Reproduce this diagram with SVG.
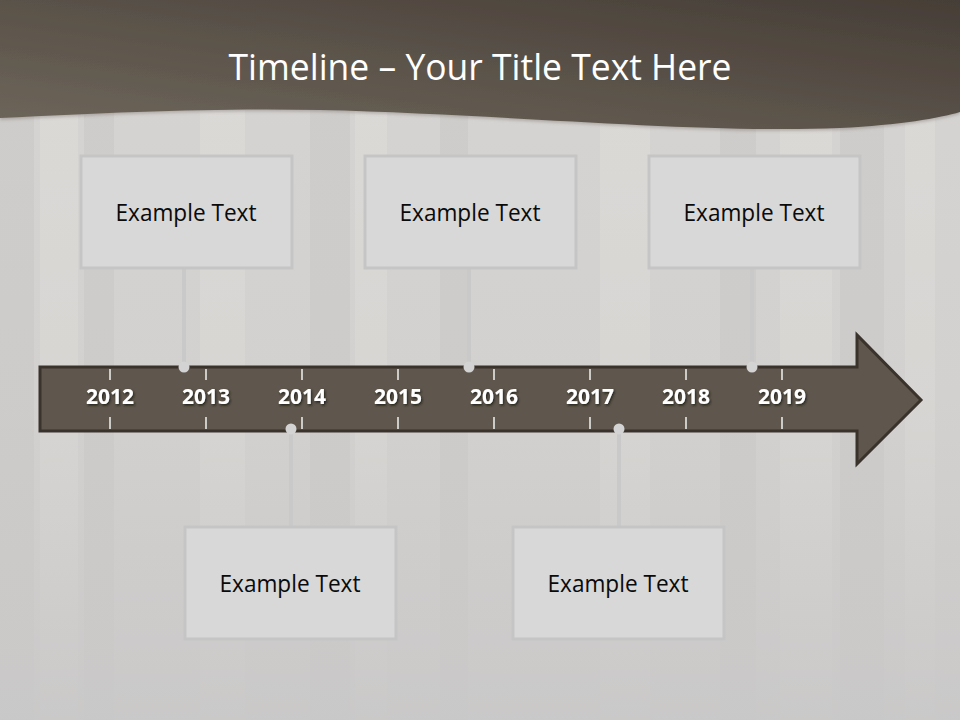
<svg xmlns="http://www.w3.org/2000/svg" width="960" height="720" viewBox="0 0 960 720">
  <defs>
    <linearGradient id="hdr" x1="0" y1="1" x2="1" y2="0">
      <stop offset="0" stop-color="#6e665b"/>
      <stop offset="1" stop-color="#463e37"/>
    </linearGradient>
    <linearGradient id="fade" x1="0" y1="0" x2="0" y2="1">
      <stop offset="0" stop-color="#cac8c7" stop-opacity="0"/>
      <stop offset="0.55" stop-color="#cac8c7" stop-opacity="0.25"/>
      <stop offset="1" stop-color="#c9c8c8" stop-opacity="0.95"/>
    </linearGradient>
    <filter id="tshadow" x="-20%" y="-20%" width="140%" height="160%">
      <feDropShadow dx="1.2" dy="1.5" stdDeviation="0.8" flood-color="#1e1a16" flood-opacity="0.9"/>
    </filter>
    <filter id="hshadow" x="-5%" y="-20%" width="110%" height="150%">
      <feDropShadow dx="0" dy="2" stdDeviation="1.5" flood-color="#6a6460" flood-opacity="0.35"/>
    </filter>
  </defs>
  <style>
    .box { fill: #d8d8d8; stroke: #c5c5c5; stroke-width: 3; }
    .lbl { font-family: "Open Sans", "Liberation Sans", sans-serif; font-size: 24px; fill: #0a0a0a; text-anchor: middle; }
    .yr { font-family: "Open Sans", "Liberation Sans", sans-serif; font-size: 21px; font-weight: 700; fill: #ffffff; text-anchor: middle; filter: url(#tshadow); }
    .tick { stroke: #f2f2f2; stroke-width: 1.5; }
    .conn { stroke: #c9c9c9; stroke-width: 4; fill: none; }
    .dot { fill: #d3d3d3; }
    .plankL { fill: #e2dfdc; }
    .plankD { fill: #cbc8c6; }
  </style>

  <!-- background -->
  <rect x="0" y="0" width="960" height="720" fill="#d6d4d2"/>
  <g id="planks" opacity="0.55">
    <rect class="plankD" x="0" y="0" width="34" height="720"/>
    <rect class="plankL" x="40" y="0" width="38" height="720"/>
    <rect class="plankD" x="84" y="0" width="30" height="720"/>
    <rect class="plankL" x="200" y="0" width="45" height="720"/>
    <rect class="plankD" x="310" y="0" width="40" height="720"/>
    <rect class="plankL" x="355" y="0" width="32" height="720"/>
    <rect class="plankD" x="440" y="0" width="28" height="720"/>
    <rect class="plankL" x="600" y="0" width="50" height="720"/>
    <rect class="plankD" x="720" y="0" width="36" height="720"/>
    <rect class="plankL" x="780" y="0" width="52" height="720"/>
    <rect class="plankD" x="840" y="0" width="44" height="720"/>
    <rect class="plankL" x="905" y="0" width="30" height="720"/>
  </g>
  <rect x="0" y="0" width="960" height="720" fill="url(#fade)"/>

  <!-- header -->
  <g id="header">
    <path d="M0,0 H960 V112 C940,118 900,125 840,128 C700,134 500,114 320,110 C220,108 120,112 0,118 Z" fill="url(#hdr)" filter="url(#hshadow)"/>
    <text x="480" y="80" font-family="Open Sans, Liberation Sans, sans-serif" font-size="37" fill="#ffffff" text-anchor="middle" textLength="503" lengthAdjust="spacingAndGlyphs">Timeline – Your Title Text Here</text>
  </g>

  <!-- connectors -->
  <g id="connectors">
    <line class="conn" x1="184" y1="269" x2="184" y2="367"/>
    <line class="conn" x1="469" y1="269" x2="469" y2="367"/>
    <line class="conn" x1="752" y1="269" x2="752" y2="367"/>
    <line class="conn" x1="291" y1="430" x2="291" y2="526"/>
    <line class="conn" x1="619" y1="430" x2="619" y2="526"/>
  </g>

  <!-- timeline arrow -->
  <g id="timeline">
    <path d="M40,367 H857 V335 L921,400 L857,464 V431 H40 Z" fill="#5f574d" stroke="#3a332c" stroke-width="3" stroke-linejoin="miter"/>
    <g class="ticks">
      <line class="tick" x1="110" y1="369" x2="110" y2="380"/><line class="tick" x1="110" y1="417" x2="110" y2="429"/>
      <line class="tick" x1="206" y1="369" x2="206" y2="380"/><line class="tick" x1="206" y1="417" x2="206" y2="429"/>
      <line class="tick" x1="302" y1="369" x2="302" y2="380"/><line class="tick" x1="302" y1="417" x2="302" y2="429"/>
      <line class="tick" x1="398" y1="369" x2="398" y2="380"/><line class="tick" x1="398" y1="417" x2="398" y2="429"/>
      <line class="tick" x1="494" y1="369" x2="494" y2="380"/><line class="tick" x1="494" y1="417" x2="494" y2="429"/>
      <line class="tick" x1="590" y1="369" x2="590" y2="380"/><line class="tick" x1="590" y1="417" x2="590" y2="429"/>
      <line class="tick" x1="686" y1="369" x2="686" y2="380"/><line class="tick" x1="686" y1="417" x2="686" y2="429"/>
      <line class="tick" x1="782" y1="369" x2="782" y2="380"/><line class="tick" x1="782" y1="417" x2="782" y2="429"/>
    </g>
    <text class="yr" x="110" y="404">2012</text>
    <text class="yr" x="206" y="404">2013</text>
    <text class="yr" x="302" y="404">2014</text>
    <text class="yr" x="398" y="404">2015</text>
    <text class="yr" x="494" y="404">2016</text>
    <text class="yr" x="590" y="404">2017</text>
    <text class="yr" x="686" y="404">2018</text>
    <text class="yr" x="782" y="404">2019</text>
    <circle class="dot" cx="184" cy="367" r="5.5"/>
    <circle class="dot" cx="469" cy="367" r="5.5"/>
    <circle class="dot" cx="752" cy="367" r="5.5"/>
    <circle class="dot" cx="291" cy="429" r="5.5"/>
    <circle class="dot" cx="619" cy="429" r="5.5"/>
  </g>

  <!-- boxes -->
  <g id="box1">
    <rect class="box" x="81" y="156" width="211" height="112"/>
    <text class="lbl" x="186" y="221" textLength="141" lengthAdjust="spacingAndGlyphs">Example Text</text>
  </g>
  <g id="box2">
    <rect class="box" x="365" y="156" width="211" height="112"/>
    <text class="lbl" x="470" y="221" textLength="141" lengthAdjust="spacingAndGlyphs">Example Text</text>
  </g>
  <g id="box3">
    <rect class="box" x="649" y="156" width="211" height="112"/>
    <text class="lbl" x="754" y="221" textLength="141" lengthAdjust="spacingAndGlyphs">Example Text</text>
  </g>
  <g id="box4">
    <rect class="box" x="185" y="527" width="211" height="112"/>
    <text class="lbl" x="290" y="592" textLength="141" lengthAdjust="spacingAndGlyphs">Example Text</text>
  </g>
  <g id="box5">
    <rect class="box" x="513" y="527" width="211" height="112"/>
    <text class="lbl" x="618" y="592" textLength="141" lengthAdjust="spacingAndGlyphs">Example Text</text>
  </g>
</svg>
